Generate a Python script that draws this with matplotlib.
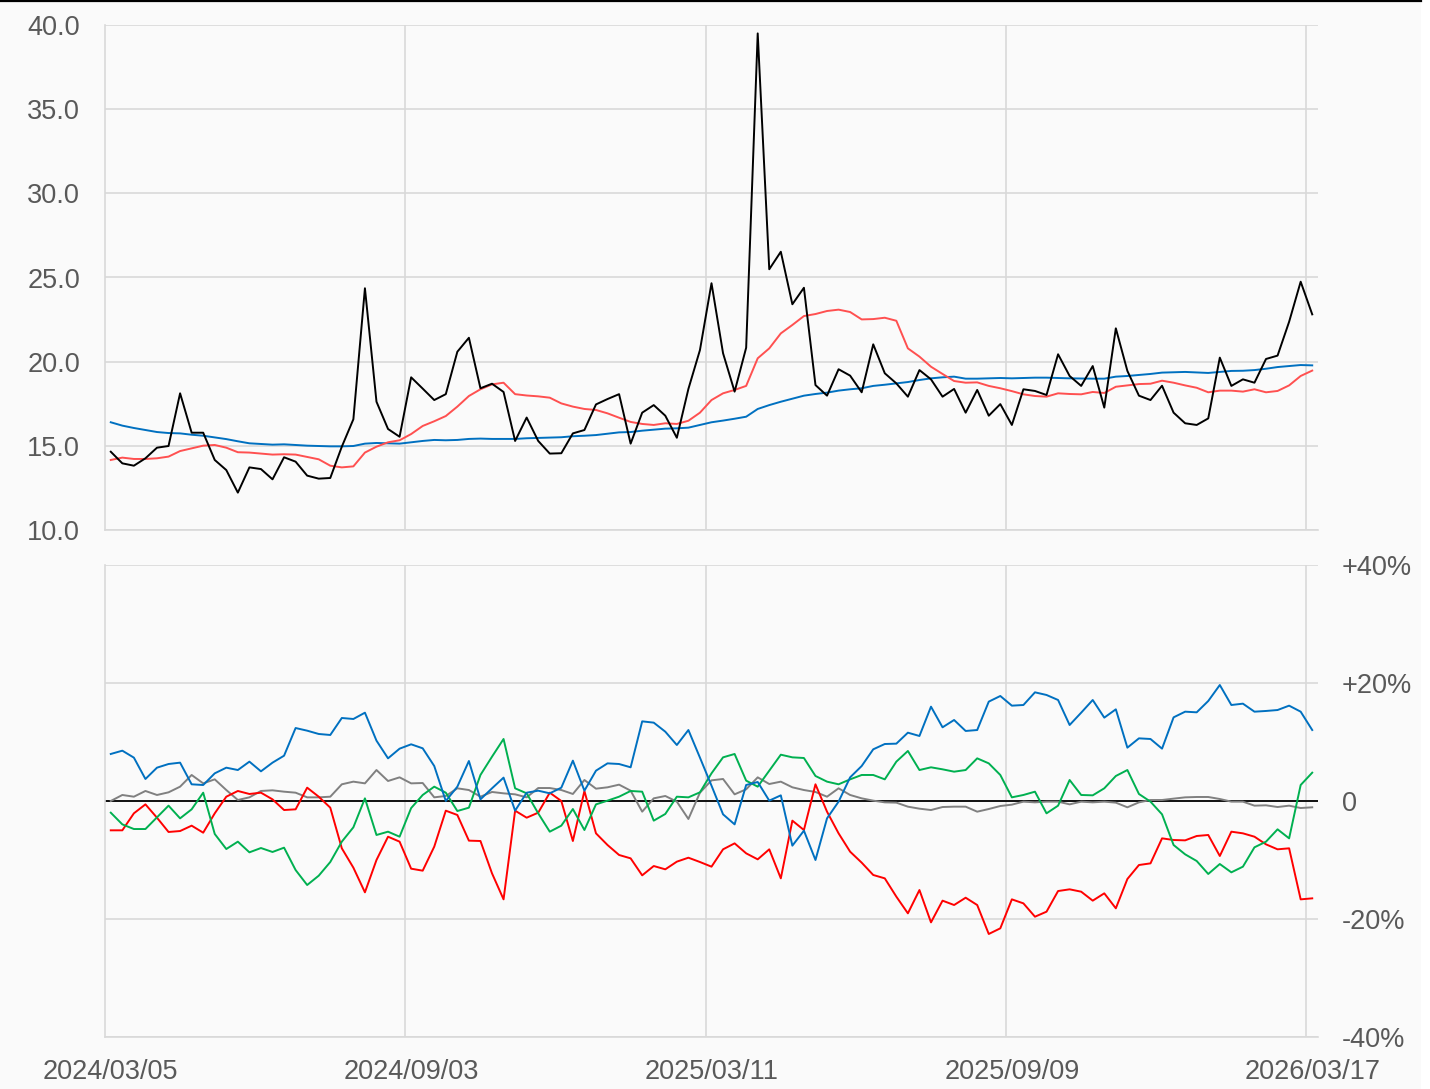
import numpy as np
import matplotlib
matplotlib.use("Agg")
import matplotlib.pyplot as plt
from matplotlib.patches import Rectangle
from matplotlib.lines import Line2D

# ---------------- data ----------------
tick_labels = ["2024/03/05", "2024/09/03", "2025/03/11", "2025/09/09", "2026/03/17"]

price = [14.65, 13.96, 13.82, 14.26, 14.89, 14.99, 18.12, 15.78, 15.78, 14.16,
         13.56, 12.22, 13.72, 13.62, 13.01, 14.32, 14.06, 13.23, 13.05, 13.09,
         14.95, 16.58, 24.36, 17.62, 16.00, 15.54, 19.07, 18.40, 17.72, 18.07,
         20.59, 21.42, 18.42, 18.69, 18.20, 15.29, 16.68, 15.29, 14.54, 14.56,
         15.74, 15.94, 17.46, 17.78, 18.07, 15.13, 16.97, 17.42, 16.79, 15.48,
         18.38, 20.69, 24.66, 20.50, 18.22, 20.83, 39.50, 25.49, 26.53, 23.41,
         24.39, 18.61, 17.98, 19.55, 19.17, 18.18, 21.03, 19.31, 18.71, 17.92,
         19.50, 18.95, 17.92, 18.38, 16.97, 18.32, 16.79, 17.48, 16.24, 18.36,
         18.26, 18.02, 20.44, 19.15, 18.56, 19.74, 17.27, 21.98, 19.45, 17.98,
         17.72, 18.57, 16.97, 16.34, 16.24, 16.63, 20.24, 18.56, 18.95, 18.75,
         20.16, 20.36, 22.37, 24.75, 22.81]

ma_short = [14.16, 14.30, 14.22, 14.22, 14.26, 14.36, 14.69, 14.85, 15.01, 15.05,
            14.89, 14.62, 14.60, 14.54, 14.48, 14.50, 14.48, 14.34, 14.20, 13.82,
            13.72, 13.78, 14.60, 14.95, 15.21, 15.33, 15.70, 16.18, 16.46, 16.77,
            17.33, 17.96, 18.36, 18.65, 18.75, 18.07, 17.99, 17.94, 17.86, 17.52,
            17.33, 17.19, 17.13, 16.93, 16.67, 16.42, 16.30, 16.24, 16.34, 16.30,
            16.49, 16.97, 17.72, 18.12, 18.32, 18.56, 20.20, 20.79, 21.68, 22.18,
            22.71, 22.83, 23.01, 23.09, 22.95, 22.51, 22.53, 22.61, 22.43, 20.79,
            20.30, 19.70, 19.27, 18.85, 18.75, 18.77, 18.56, 18.42, 18.25, 18.06,
            17.96, 17.92, 18.12, 18.08, 18.06, 18.20, 18.14, 18.51, 18.59, 18.67,
            18.69, 18.87, 18.75, 18.59, 18.45, 18.18, 18.28, 18.28, 18.22, 18.36,
            18.18, 18.26, 18.59, 19.15, 19.47]

ma_long = [16.40, 16.20, 16.06, 15.94, 15.82, 15.76, 15.74, 15.66, 15.60, 15.50,
           15.40, 15.27, 15.15, 15.11, 15.07, 15.09, 15.05, 15.01, 14.99, 14.97,
           14.97, 14.99, 15.13, 15.17, 15.15, 15.13, 15.21, 15.29, 15.35, 15.33,
           15.35, 15.41, 15.43, 15.41, 15.41, 15.41, 15.45, 15.47, 15.49, 15.51,
           15.57, 15.60, 15.64, 15.72, 15.80, 15.82, 15.90, 15.96, 16.02, 16.04,
           16.08, 16.24, 16.40, 16.50, 16.61, 16.73, 17.19, 17.42, 17.62, 17.80,
           17.98, 18.08, 18.16, 18.28, 18.36, 18.42, 18.56, 18.63, 18.71, 18.79,
           18.91, 19.01, 19.07, 19.11, 18.99, 18.99, 19.01, 19.03, 19.01, 19.03,
           19.05, 19.05, 19.03, 19.01, 19.00, 18.99, 18.99, 19.11, 19.15, 19.21,
           19.27, 19.35, 19.37, 19.39, 19.36, 19.33, 19.39, 19.45, 19.46, 19.50,
           19.58, 19.68, 19.74, 19.80, 19.78]

dev_blue = [7.97, 8.53, 7.35, 3.73, 5.65, 6.27, 6.50, 2.83, 2.71, 4.69,
            5.65, 5.25, 6.67, 5.03, 6.50, 7.68, 12.37, 11.92, 11.36, 11.19,
            14.07, 13.90, 14.97, 10.23, 7.23, 8.87, 9.61, 8.93, 5.93, 0.00,
            2.43, 6.78, 0.28, 2.15, 3.96, -1.64, 1.41, 1.75, 1.30, 2.26,
            6.84, 1.75, 5.14, 6.38, 6.27, 5.71, 13.50, 13.28, 11.75, 9.49,
            12.03, 7.35, 2.60, -2.26, -3.96, 2.71, 3.22, 0.06, 0.96, -7.57,
            -5.03, -10.00, -2.94, -0.11, 4.01, 5.93, 8.76, 9.66, 9.72, 11.58,
            11.02, 15.99, 12.49, 13.73, 11.87, 12.03, 16.84, 17.80, 16.16, 16.27,
            18.42, 17.97, 17.12, 12.88, 14.97, 17.12, 14.13, 15.54, 9.04, 10.62,
            10.51, 8.87, 14.18, 15.14, 15.03, 16.95, 19.66, 16.27, 16.50, 15.14,
            15.26, 15.42, 16.16, 15.14, 12.03]

dev_green = [-1.98, -3.96, -4.75, -4.75, -2.77, -0.79, -2.94, -1.41, 1.41, -5.59,
             -8.14, -6.89, -8.70, -7.97, -8.64, -7.91, -11.70, -14.24, -12.66, -10.34,
             -6.89, -4.46, 0.45, -5.76, -5.20, -6.05, -1.20, 1.02, 2.43, 1.41,
             -1.70, -1.13, 4.41, 7.51, 10.51, 2.15, 1.30, -2.09, -5.20, -4.18,
             -1.36, -4.92, -0.57, 0.06, 0.73, 1.70, 1.58, -3.33, -2.20, 0.73,
             0.62, 1.47, 4.69, 7.40, 7.97, 3.45, 2.43, 5.14, 7.85, 7.40,
             7.29, 4.24, 3.28, 2.83, 3.67, 4.41, 4.41, 3.67, 6.67, 8.48,
             5.25, 5.71, 5.37, 4.97, 5.25, 7.23, 6.38, 4.41, 0.62, 1.02,
             1.58, -2.09, -0.79, 3.56, 1.02, 0.96, 2.15, 4.24, 5.25, 1.19,
             -0.11, -2.26, -7.46, -9.04, -10.17, -12.37, -10.68, -12.09, -11.13, -7.85,
             -6.89, -4.80, -6.33, 2.71, 4.80]

dev_red = [-4.97, -4.97, -2.09, -0.57, -2.83, -5.25, -5.09, -4.18, -5.37, -2.09,
           0.73, 1.70, 1.19, 1.41, 0.28, -1.53, -1.41, 2.26, 0.73, -1.13,
           -8.02, -11.30, -15.48, -10.00, -6.05, -6.89, -11.47, -11.81, -7.74, -1.64,
           -2.37, -6.72, -6.78, -12.26, -16.67, -1.64, -2.83, -1.98, 1.41, 0.00,
           -6.78, 1.70, -5.48, -7.46, -9.15, -9.72, -12.60, -11.02, -11.58, -10.28,
           -9.61, -10.34, -11.13, -8.19, -7.18, -8.87, -9.89, -8.19, -13.11, -3.33,
           -4.92, 2.83, -1.81, -5.48, -8.59, -10.45, -12.54, -13.11, -16.21, -19.04,
           -15.09, -20.57, -16.89, -17.63, -16.39, -17.63, -22.54, -21.58, -16.67, -17.35,
           -19.61, -18.76, -15.26, -14.97, -15.37, -16.89, -15.65, -18.19, -13.22, -10.85,
           -10.57, -6.33, -6.61, -6.67, -5.93, -5.76, -9.32, -5.20, -5.48, -6.05,
           -7.35, -8.19, -8.02, -16.67, -16.50]

dev_gray = [0.00, 1.02, 0.73, 1.70, 1.02, 1.47, 2.43, 4.41, 2.99, 3.67,
            1.86, 0.17, 0.62, 1.70, 1.81, 1.58, 1.41, 0.62, 0.62, 0.73,
            2.83, 3.28, 2.99, 5.25, 3.39, 4.01, 2.99, 3.05, 0.62, 0.85,
            2.15, 1.86, 0.73, 1.53, 1.30, 1.13, 0.62, 2.20, 2.20, 1.86,
            1.19, 3.56, 2.09, 2.32, 2.77, 1.75, -1.81, 0.45, 0.85, -0.11,
            -3.05, 1.41, 3.50, 3.73, 1.13, 1.98, 4.01, 2.88, 3.28, 2.32,
            1.86, 1.53, 0.73, 2.15, 1.02, 0.45, 0.06, -0.23, -0.28, -0.96,
            -1.30, -1.53, -1.02, -0.96, -0.96, -1.81, -1.36, -0.85, -0.62, -0.11,
            -0.23, -0.11, -0.11, -0.57, -0.11, -0.23, -0.11, -0.28, -1.07, -0.23,
            0.17, 0.17, 0.40, 0.62, 0.68, 0.68, 0.34, -0.11, -0.11, -0.79,
            -0.73, -1.02, -0.79, -1.19, -1.07]

top_ticks = [10.0, 15.0, 20.0, 25.0, 30.0, 35.0, 40.0]
bottom_ticks = [-40, -20, 0, 20, 40]
bottom_labels = ["-40%", "-20%", "0", "+20%", "+40%"]

# ---------------- style ----------------
plt.rcParams['font.family'] = ['Liberation Sans', 'DejaVu Sans']
TXT = '#595959'
GRID = '#d9d9d9'
BG = '#fafafa'
FS = 19.5

W, H = 1430, 1089
fig = plt.figure(figsize=(W / 100, H / 100), dpi=100, facecolor='white')
fig.patches.append(Rectangle((0, 0), 1421 / W, 1, transform=fig.transFigure,
                             facecolor=BG, edgecolor='none', zorder=-10))
fig.add_artist(Line2D([0, 1421 / W], [1 - 1 / H, 1 - 1 / H], color='black', lw=1.6,
                      transform=fig.transFigure))

n = len(price)
x = np.arange(n)
tick_pos = np.arange(0, n, 26)
grid_pos = tick_pos[1:] - 0.5

left = 105 / W
width = (1318 - 105) / W
ax1 = fig.add_axes([left, 1 - 530 / H, width, (530 - 25) / H])
ax2 = fig.add_axes([left, 1 - 1037 / H, width, (1037 - 565) / H])


def style(ax):
    ax.set_facecolor(BG)
    ax.set_xlim(-0.5, n - 0.5)
    for s in ['top', 'right']:
        ax.spines[s].set_visible(False)
    for s in ['left', 'bottom']:
        ax.spines[s].set_color(GRID)
        ax.spines[s].set_linewidth(1.2)
    ax.set_xticks(grid_pos, minor=True)
    ax.grid(True, which='minor', axis='x', color=GRID, lw=1.2)
    ax.grid(True, which='major', axis='y', color=GRID, lw=1.2)
    ax.tick_params(which='both', length=0, colors=TXT, labelsize=FS)
    ax.set_axisbelow(True)


style(ax1)
style(ax2)

# top panel
ax1.plot(x, ma_long, color='#0070c0', lw=1.4, zorder=3)
ax1.plot(x, ma_short, color='#ff5050', lw=1.4, zorder=3)
ax1.plot(x, price, color='black', lw=1.4, zorder=4)
ax1.set_ylim(10, 40)
ax1.set_yticks(top_ticks)
ax1.set_yticklabels([f"{v:.1f}" for v in top_ticks])
ax1.tick_params(axis='y', pad=18)
ax1.set_xticks(tick_pos)
ax1.set_xticklabels([])

# bottom panel
ax2.axhline(0, color='black', lw=1.3, zorder=2)
ax2.plot(x, dev_gray, color='#808080', lw=1.4, zorder=3)
ax2.plot(x, dev_red, color='#ff0000', lw=1.4, zorder=3)
ax2.plot(x, dev_green, color='#00b050', lw=1.4, zorder=3)
ax2.plot(x, dev_blue, color='#0070c0', lw=1.4, zorder=3)
ax2.set_ylim(-40, 40)
ax2.set_yticks(bottom_ticks)
ax2.set_yticklabels(bottom_labels)
ax2.yaxis.tick_right()
ax2.tick_params(axis='y', pad=17)
ax2.set_xticks(tick_pos)
ax2.set_xticklabels(tick_labels)
ax2.tick_params(axis='x', pad=16)

fig.savefig("out.png", dpi=100, facecolor=fig.get_facecolor())
